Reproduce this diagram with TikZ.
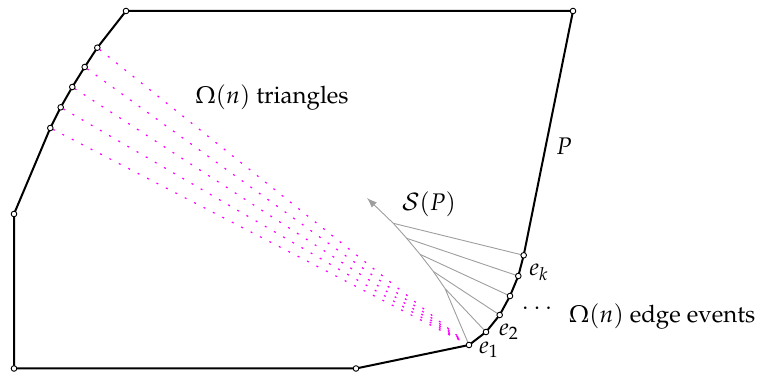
\documentclass[tikz,border=0pt]{standalone}
\usepackage[T1]{fontenc}
\usepackage{mathpazo}
\usetikzlibrary{arrows.meta}
\definecolor{wavec}{RGB}{255,0,255}
\begin{document}
\begin{tikzpicture}[x=0.5pt,y=-0.5pt,
  poly/.style={line width=1pt, black, line join=round},
  vtx/.style={circle, draw=black, fill=white, inner sep=0pt, minimum size=2.8pt, line width=0.45pt},
  skel/.style={color=black!38, line width=0.45pt},
  wave/.style={color=wavec, line width=0.6pt, dash pattern=on 1pt off 4.3pt, shorten <=1.5pt, shorten >=5pt},
  lbl/.style={inner sep=0pt, font=\fontsize{12}{14.4}\selectfont}]
\useasboundingbox (0,0) rectangle (762,373);
% polygon vertices
\coordinate (A) at (14,368.5);
\coordinate (B) at (356,368.5);
\coordinate (v0) at (469,345);
\coordinate (v1) at (486,332);
\coordinate (v2) at (499.7,315);
\coordinate (v3) at (510,296);
\coordinate (v4) at (518.3,276);
\coordinate (v5) at (523.7,255.3);
\coordinate (D) at (573,11);
\coordinate (E) at (126,11);
\coordinate (F) at (97.3,47.7);
\coordinate (G) at (84.7,67);
\coordinate (H) at (72.3,87);
\coordinate (I) at (60.7,107.3);
\coordinate (J) at (50.3,128);
\coordinate (K) at (14,214);
% skeleton nodes
\coordinate (s1) at (445,288.5);
\coordinate (s2) at (433.4,271.5);
\coordinate (s3) at (420,254.3);
\coordinate (s4) at (406.7,238.3);
\coordinate (s5) at (393.3,223.3);
\coordinate (tip) at (367,198);
% wavefront triangles
\foreach \p in {F,G,H,I,J} \draw[wave] (\p) -- (v0);
% skeleton
\draw[skel] (v0) -- (s1) (v1) -- (s1) (v2) -- (s2) (v3) -- (s3) (v4) -- (s4) (v5) -- (s5);
\draw[skel, -{Latex[length=5pt,width=3.6pt]}] (s1) -- (s2) -- (s3) -- (s4) -- (s5) -- (tip);
% polygon
\draw[poly] (A) -- (B) -- (v0) -- (v1) -- (v2) -- (v3) -- (v4) -- (v5) -- (D) -- (E) -- (F) -- (G) -- (H) -- (I) -- (J) -- (K) -- cycle;
\foreach \p in {A,B,v0,v1,v2,v3,v4,v5,D,E,F,G,H,I,J,K} \node[vtx] (c\p) at (\p) {};
% labels
\node[lbl] (ltri) at (272,98) {$\Omega(n)$ triangles};
\node[lbl] (lP) at (564,146) {$P$};
\node[lbl] (lS) at (429,204) {$\mathcal{S}(P)$};
\node[lbl] (lek) at (539,272) {$e_k$};
\node[lbl] (ldots) at (537,309) {$\cdots$};
\node[lbl] (le2) at (509,332) {$e_2$};
\node[lbl] (le1) at (489,350) {$e_1$};
\node[lbl] (lev) at (662,317) {$\Omega(n)$ edge events};
\end{tikzpicture}
\end{document}
